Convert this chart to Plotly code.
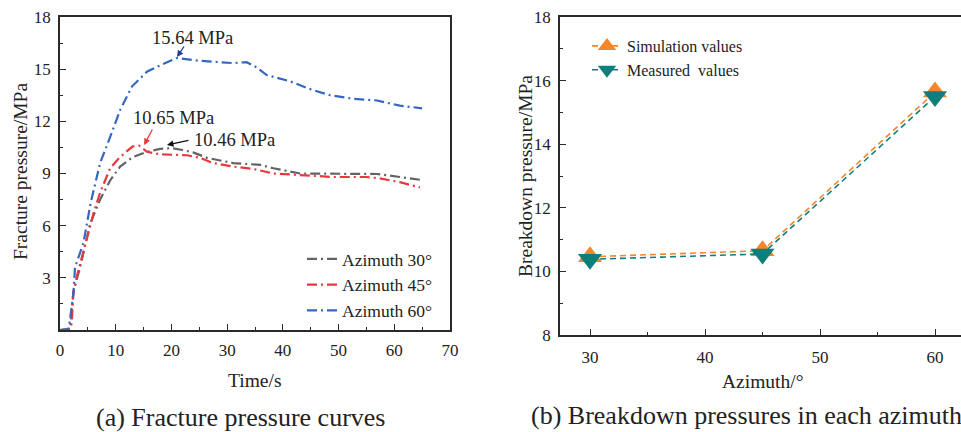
import plotly.graph_objects as go

W, H = 961, 432

# ---------- data: (a) fracture pressure curves ----------
t30 = [0, 1.8, 2.4, 3.6, 5.4, 7.2, 9.0, 10.8, 13.1, 15.6, 18, 20, 22, 24, 26.4, 31.1, 35.9, 38.3, 43.1, 46.7, 52, 56.9, 61, 65]
p30 = [0, 0.05, 2.2, 3.6, 6.1, 7.5, 8.6, 9.4, 9.95, 10.25, 10.42, 10.46, 10.35, 10.2, 9.9, 9.6, 9.5, 9.3, 9.0, 9.0, 9.0, 8.97, 8.8, 8.62]

t45 = [0, 1.8, 2.1, 2.4, 3.0, 4.5, 6.0, 7.2, 9.0, 10.8, 13.0, 14.2, 15.6, 18, 22.8, 25.1, 27.5, 31, 34.7, 38.3, 43.1, 49, 55, 57.4, 61, 64.6]
p45 = [0, 0.05, 0.4, 2.1, 3.05, 4.8, 6.7, 7.9, 9.3, 9.95, 10.55, 10.6, 10.25, 10.1, 10.05, 9.9, 9.6, 9.4, 9.26, 9.0, 8.9, 8.8, 8.8, 8.72, 8.5, 8.2]

t60 = [0, 1.5, 1.8, 2.4, 2.7, 4.2, 5.5, 7.2, 9.0, 10.8, 12.9, 15.6, 18.5, 21.0, 24.5, 28, 31, 33.5, 35.3, 37.1, 41.3, 44.9, 48.5, 52.6, 56.9, 61, 65]
p60 = [0, 0.05, 0.6, 2.1, 3.6, 5.0, 7.3, 9.6, 11.1, 12.65, 14.0, 14.85, 15.3, 15.64, 15.5, 15.4, 15.35, 15.4, 15.1, 14.66, 14.3, 13.85, 13.5, 13.3, 13.2, 12.9, 12.75]

series_names = ["Azimuth 30°", "Azimuth 45°", "Azimuth 60°"]
series_colors = ["#636363", "#e8383d", "#3566c2"]

# peak labels
peak_labels = ["15.64 MPa", "10.65 MPa", "10.46 MPa"]
peak_head_t = [21.0, 15.1, 19.2]
peak_head_p = [15.7, 10.64, 10.64]
peak_text_t = [23.8, 20.3, 31.4]
peak_text_p = [16.8, 12.2, 10.95]

# ---------- data: (b) breakdown pressures ----------
azimuth = [30, 45, 60]
sim_vals = [10.46, 10.65, 15.64]
meas_vals = [10.38, 10.55, 15.5]

FONT = "Liberation Serif, Times New Roman, Times, serif"
TXT = "#222222"
AX = "#2a2a2a"

fig = go.Figure()

for t, p, n, c in zip([t30, t45, t60], [p30, p45, p60], series_names, series_colors):
    fig.add_trace(go.Scatter(x=t, y=p, mode="lines", name=n,
                             line=dict(color=c, width=2.2, dash="10px,4px,2px,4px"),
                             xaxis="x", yaxis="y", legend="legend"))

fig.add_trace(go.Scatter(x=azimuth, y=sim_vals, mode="lines+markers", name="Simulation values",
                         line=dict(color="#f5862a", width=1.6, dash="6px,4px"),
                         marker=dict(symbol="triangle-up", size=21, color="#f5862a"),
                         xaxis="x2", yaxis="y2", legend="legend2"))
fig.add_trace(go.Scatter(x=azimuth, y=meas_vals, mode="lines+markers", name="Measured  values",
                         line=dict(color="#0f7f7b", width=1.6, dash="6px,4px"),
                         marker=dict(symbol="triangle-down", size=21, color="#0f7f7b"),
                         xaxis="x2", yaxis="y2", legend="legend2"))

def px(x):
    return x / W

def py(y):
    return 1 - y / H

axis_common = dict(showline=True, linecolor=AX, linewidth=1.5, ticks="inside", ticklen=6,
                   tickwidth=1.3, tickcolor=AX, showgrid=False, zeroline=False, automargin=False,
                   tickfont=dict(family=FONT, size=17, color=TXT))

annotations = []
arrow_colors = ["#1f3f9a", "#e8383d", "#111111"]
arrow_off = [(8, -12), (9, -17), (23, -5)]
for lab, ht, hp, tt, tp, ac, off in zip(peak_labels, peak_head_t, peak_head_p, peak_text_t, peak_text_p, arrow_colors, arrow_off):
    annotations.append(dict(x=tt, y=tp, xref="x", yref="y", text=lab, showarrow=False,
                            font=dict(family=FONT, size=18.5, color=TXT)))
    annotations.append(dict(x=ht, y=hp, xref="x", yref="y", text="", showarrow=True,
                            ax=off[0], ay=off[1], arrowhead=2, arrowsize=1, arrowwidth=1.3,
                            arrowcolor=ac))

def label(text, x, y, size, angle=0, xanchor="center"):
    annotations.append(dict(x=px(x), y=py(y), xref="paper", yref="paper", text=text,
                            showarrow=False, textangle=angle, xanchor=xanchor, yanchor="middle",
                            font=dict(family=FONT, size=size, color=TXT)))

label("Fracture pressure/MPa", 20, 172, 19.5, -90)
label("Time/s", 255, 380, 19.5)
label("(a) Fracture pressure curves", 240, 417, 26)
label("Breakdown pressure/MPa", 525, 176, 19.5, -90)
label("Azimuth/°", 762, 381, 19.5)
label("(b) Breakdown pressures in each azimuth", 529, 415, 26, xanchor="left")

fig.update_layout(
    width=W, height=H, margin=dict(l=0, r=0, t=0, b=0, pad=0, autoexpand=False),
    paper_bgcolor="white", plot_bgcolor="white",
    font=dict(family=FONT, color=TXT),
    xaxis=dict(domain=[px(60), px(450)], range=[0, 70], tickvals=[0, 10, 20, 30, 40, 50, 60, 70],
               minor=dict(ticks="inside", ticklen=3.5, dtick=5, tick0=0, tickcolor=AX),
               mirror=True, anchor="y", ticklabelstandoff=4, **axis_common),
    yaxis=dict(domain=[py(330), py(17)], range=[0, 18], tickvals=[3, 6, 9, 12, 15, 18],
               minor=dict(ticks="inside", ticklen=3.5, dtick=1.5, tick0=0, tickcolor=AX),
               mirror=True, anchor="x", ticklabelstandoff=4, **axis_common),
    xaxis2=dict(domain=[px(560), 1.0], range=[27.39, 62.26], tickvals=[30, 40, 50, 60],
                minor=dict(ticks="inside", ticklen=3.5, dtick=5, tick0=0, tickcolor=AX),
                mirror=True, anchor="y2", ticklabelstandoff=6, **axis_common),
    yaxis2=dict(domain=[py(335), py(17)], range=[8, 18], tickvals=[8, 10, 12, 14, 16, 18],
                minor=dict(ticks="inside", ticklen=3.5, dtick=1, tick0=0, tickcolor=AX),
                mirror=False, anchor="x2", ticklabelstandoff=4, **axis_common),
    legend=dict(x=px(302), y=py(241), xanchor="left", yanchor="top",
                bgcolor="rgba(0,0,0,0)", font=dict(family=FONT, size=17.5, color=TXT)),
    legend2=dict(x=px(587), y=py(29), xanchor="left", yanchor="top",
                 bgcolor="rgba(0,0,0,0)", font=dict(family=FONT, size=16, color=TXT)),
    annotations=annotations,
    showlegend=True,
)

fig.write_html("out.html")
